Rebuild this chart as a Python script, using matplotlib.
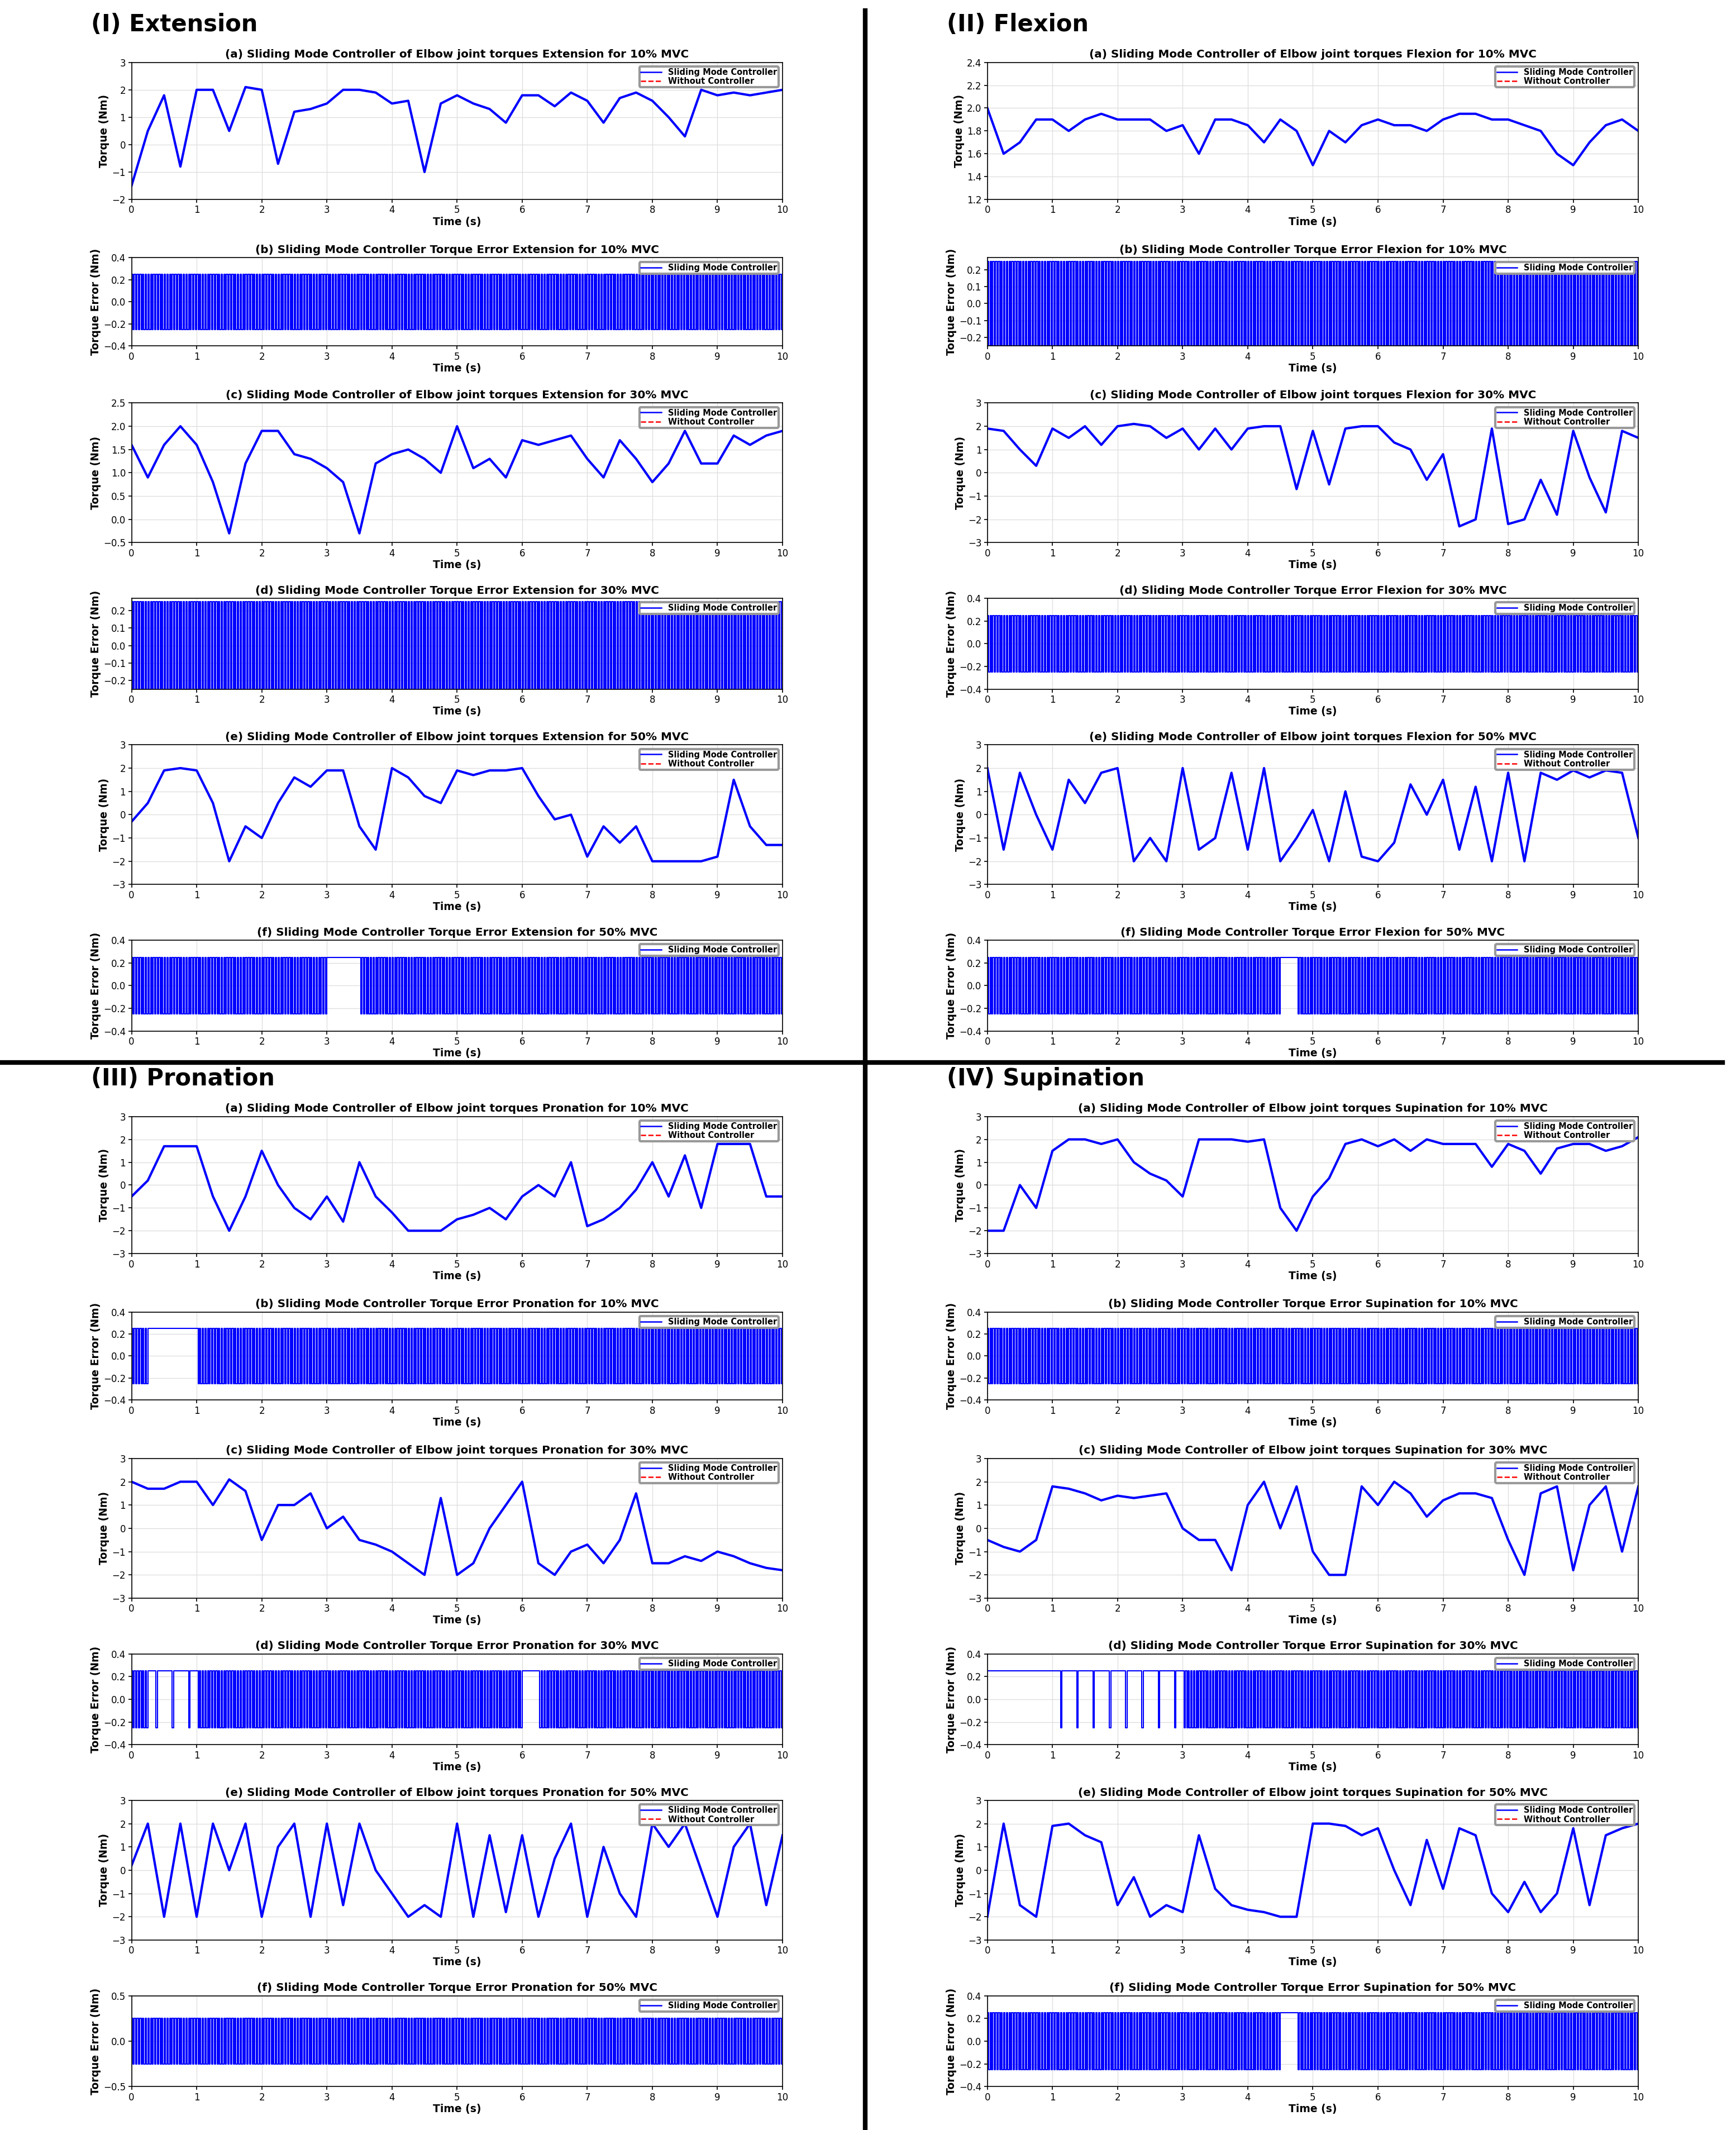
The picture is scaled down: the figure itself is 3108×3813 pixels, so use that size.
import numpy as np
import matplotlib.pyplot as plt
from matplotlib.lines import Line2D

W, H = 1280, 1570

t_coarse = np.arange(0, 10.01, 0.25)

# torque readings every 0.25 s
ext_10 = [-1.5, 0.5, 1.8, -0.8, 2.0, 2.0, 0.5, 2.1, 2.0, -0.7, 1.2, 1.3, 1.5, 2.0, 2.0, 1.9, 1.5, 1.6, -1.0, 1.5, 1.8,
          1.5, 1.3, 0.8, 1.8, 1.8, 1.4, 1.9, 1.6, 0.8, 1.7, 1.9, 1.6, 1.0, 0.3, 2.0, 1.8, 1.9, 1.8, 1.9, 2.0]
ext_30 = [1.6, 0.9, 1.6, 2.0, 1.6, 0.8, -0.3, 1.2, 1.9, 1.9, 1.4, 1.3, 1.1, 0.8, -0.3, 1.2, 1.4, 1.5, 1.3, 1.0, 2.0,
          1.1, 1.3, 0.9, 1.7, 1.6, 1.7, 1.8, 1.3, 0.9, 1.7, 1.3, 0.8, 1.2, 1.9, 1.2, 1.2, 1.8, 1.6, 1.8, 1.9]
ext_50 = [-0.3, 0.5, 1.9, 2.0, 1.9, 0.5, -2.0, -0.5, -1.0, 0.5, 1.6, 1.2, 1.9, 1.9, -0.5, -1.5, 2.0, 1.6, 0.8, 0.5, 1.9,
          1.7, 1.9, 1.9, 2.0, 0.8, -0.2, 0.0, -1.8, -0.5, -1.2, -0.5, -2.0, -2.0, -2.0, -2.0, -1.8, 1.5, -0.5, -1.3, -1.3]
flx_10 = [2.0, 1.6, 1.7, 1.9, 1.9, 1.8, 1.9, 1.95, 1.9, 1.9, 1.9, 1.8, 1.85, 1.6, 1.9, 1.9, 1.85, 1.7, 1.9, 1.8, 1.5,
          1.8, 1.7, 1.85, 1.9, 1.85, 1.85, 1.8, 1.9, 1.95, 1.95, 1.9, 1.9, 1.85, 1.8, 1.6, 1.5, 1.7, 1.85, 1.9, 1.8]
flx_30 = [1.9, 1.8, 1.0, 0.3, 1.9, 1.5, 2.0, 1.2, 2.0, 2.1, 2.0, 1.5, 1.9, 1.0, 1.9, 1.0, 1.9, 2.0, 2.0, -0.7, 1.8,
          -0.5, 1.9, 2.0, 2.0, 1.3, 1.0, -0.3, 0.8, -2.3, -2.0, 1.9, -2.2, -2.0, -0.3, -1.8, 1.8, -0.2, -1.7, 1.8, 1.5]
flx_50 = [2.0, -1.5, 1.8, 0.0, -1.5, 1.5, 0.5, 1.8, 2.0, -2.0, -1.0, -2.0, 2.0, -1.5, -1.0, 1.8, -1.5, 2.0, -2.0, -1.0, 0.2,
          -2.0, 1.0, -1.8, -2.0, -1.2, 1.3, 0.0, 1.5, -1.5, 1.2, -2.0, 1.8, -2.0, 1.8, 1.5, 1.9, 1.6, 1.9, 1.8, -1.0]
pro_10 = [-0.5, 0.2, 1.7, 1.7, 1.7, -0.5, -2.0, -0.5, 1.5, 0.0, -1.0, -1.5, -0.5, -1.6, 1.0, -0.5, -1.2, -2.0, -2.0, -2.0, -1.5,
          -1.3, -1.0, -1.5, -0.5, 0.0, -0.5, 1.0, -1.8, -1.5, -1.0, -0.2, 1.0, -0.5, 1.3, -1.0, 1.8, 1.8, 1.8, -0.5, -0.5]
pro_30 = [2.0, 1.7, 1.7, 2.0, 2.0, 1.0, 2.1, 1.6, -0.5, 1.0, 1.0, 1.5, 0.0, 0.5, -0.5, -0.7, -1.0, -1.5, -2.0, 1.3, -2.0,
          -1.5, 0.0, 1.0, 2.0, -1.5, -2.0, -1.0, -0.7, -1.5, -0.5, 1.5, -1.5, -1.5, -1.2, -1.4, -1.0, -1.2, -1.5, -1.7, -1.8]
pro_50 = [0.2, 2.0, -2.0, 2.0, -2.0, 2.0, 0.0, 2.0, -2.0, 1.0, 2.0, -2.0, 2.0, -1.5, 2.0, 0.0, -1.0, -2.0, -1.5, -2.0, 2.0,
          -2.0, 1.5, -1.8, 1.5, -2.0, 0.5, 2.0, -2.0, 1.0, -1.0, -2.0, 2.0, 1.0, 2.0, 0.0, -2.0, 1.0, 2.0, -1.5, 1.5]
sup_10 = [-2.0, -2.0, 0.0, -1.0, 1.5, 2.0, 2.0, 1.8, 2.0, 1.0, 0.5, 0.2, -0.5, 2.0, 2.0, 2.0, 1.9, 2.0, -1.0, -2.0, -0.5,
          0.3, 1.8, 2.0, 1.7, 2.0, 1.5, 2.0, 1.8, 1.8, 1.8, 0.8, 1.8, 1.5, 0.5, 1.6, 1.8, 1.8, 1.5, 1.7, 2.1]
sup_30 = [-0.5, -0.8, -1.0, -0.5, 1.8, 1.7, 1.5, 1.2, 1.4, 1.3, 1.4, 1.5, 0.0, -0.5, -0.5, -1.8, 1.0, 2.0, 0.0, 1.8, -1.0,
          -2.0, -2.0, 1.8, 1.0, 2.0, 1.5, 0.5, 1.2, 1.5, 1.5, 1.3, -0.5, -2.0, 1.5, 1.8, -1.8, 1.0, 1.8, -1.0, 1.8]
sup_50 = [-2.0, 2.0, -1.5, -2.0, 1.9, 2.0, 1.5, 1.2, -1.5, -0.3, -2.0, -1.5, -1.8, 1.5, -0.8, -1.5, -1.7, -1.8, -2.0, -2.0, 2.0,
          2.0, 1.9, 1.5, 1.8, 0.0, -1.5, 1.3, -0.8, 1.8, 1.5, -1.0, -1.8, -0.5, -1.8, -1.0, 1.8, -1.5, 1.5, 1.8, 2.0]

# error pattern per 0.25 s: x = dense switching, s = sparse dips, h = held high
err_ext_10 = "x" * 40
err_ext_30 = "x" * 40
err_ext_50 = "x" * 12 + "hh" + "x" * 26
err_flx_10 = "x" * 40
err_flx_30 = "x" * 40
err_flx_50 = "x" * 18 + "h" + "x" * 21
err_pro_10 = "x" + "hhh" + "x" * 36
err_pro_30 = "x" + "sss" + "x" * 20 + "h" + "x" * 15
err_pro_50 = "x" * 40
err_sup_10 = "x" * 40
err_sup_30 = "hhhh" + "ssssssss" + "x" * 28
err_sup_50 = "x" * 18 + "h" + "x" * 21

err_amp = [0.25, 0.25, 0.25, 0.25, 0.25, 0.25, 0.25, 0.25, 0.25, 0.25, 0.25, 0.25]

tops_top = [46, 190, 297, 441, 549, 693]
tops_bot = [823, 967, 1075, 1219, 1327, 1471]
heights = [101, 65, 103, 67, 103, 67]
lefts = [97, 728]


def expand(pattern, amp, n=12):
    vals = []
    for ch in pattern:
        for k in range(n):
            if ch == "x":
                vals.append(amp if k % 2 == 0 else -amp)
            elif ch == "s":
                vals.append(-amp if k == n // 2 else amp)
            else:
                vals.append(amp)
    vals.append(vals[-1])
    return np.linspace(0, 10, len(vals)), np.array(vals)


def axes_at(x, y, h):
    return fig.add_axes([x / W, 1 - (y + h) / H, 480 / W, h / H])


def style(ax, title, ylab, ylim, yticks):
    ax.set_xlim(0, 10)
    ax.set_xticks(range(11))
    ax.set_ylim(*ylim)
    ax.set_yticks(yticks)
    ax.tick_params(labelsize=4, length=1.5, width=0.4, pad=1)
    ax.grid(True, color="#dddddd", linewidth=0.3)
    for s in ax.spines.values():
        s.set_linewidth(0.4)
    ax.set_title(title, fontsize=4.8, fontweight="bold", pad=2)
    ax.set_xlabel("Time (s)", fontsize=4.5, fontweight="bold", labelpad=0.5)
    ax.set_ylabel(ylab, fontsize=4.5, fontweight="bold", labelpad=1)


fig = plt.figure(figsize=(3108 / 300, 3813 / 300), dpi=300)

groups = [
    ("(I) Extension", "Extension", lefts[0], tops_top, [ext_10, ext_30, ext_50], [err_ext_10, err_ext_30, err_ext_50],
     [((-2, 3), range(-2, 4)), ((-0.5, 2.5), np.arange(-0.5, 2.51, 0.5)), ((-3, 3), range(-3, 4))],
     [((-0.4, 0.4), np.arange(-0.4, 0.41, 0.2)), ((-0.25, 0.27), np.arange(-0.2, 0.21, 0.1)), ((-0.4, 0.4), np.arange(-0.4, 0.41, 0.2))]),
    ("(II) Flexion", "Flexion", lefts[1], tops_top, [flx_10, flx_30, flx_50], [err_flx_10, err_flx_30, err_flx_50],
     [((1.2, 2.4), np.arange(1.2, 2.41, 0.2)), ((-3, 3), range(-3, 4)), ((-3, 3), range(-3, 4))],
     [((-0.25, 0.27), np.arange(-0.2, 0.21, 0.1)), ((-0.4, 0.4), np.arange(-0.4, 0.41, 0.2)), ((-0.4, 0.4), np.arange(-0.4, 0.41, 0.2))]),
    ("(III) Pronation", "Pronation", lefts[0], tops_bot, [pro_10, pro_30, pro_50], [err_pro_10, err_pro_30, err_pro_50],
     [((-3, 3), range(-3, 4))] * 3,
     [((-0.4, 0.4), np.arange(-0.4, 0.41, 0.2)), ((-0.4, 0.4), np.arange(-0.4, 0.41, 0.2)), ((-0.5, 0.5), [-0.5, 0, 0.5])]),
    ("(IV) Supination", "Supination", lefts[1], tops_bot, [sup_10, sup_30, sup_50], [err_sup_10, err_sup_30, err_sup_50],
     [((-3, 3), range(-3, 4))] * 3,
     [((-0.4, 0.4), np.arange(-0.4, 0.41, 0.2))] * 3),
]

letters = "abcdef"
mvc = ["10%", "30%", "50%"]
leg_both = [Line2D([], [], color="blue", lw=0.6), Line2D([], [], color="red", lw=0.6, ls="--")]
gi = 0
for header, name, x0, tops, torques, errs, tlims, elims in groups:
    fig.text((x0 - 30) / W, 1 - (tops[0] - 28) / H, header, fontsize=10, fontweight="bold", va="center")
    for i in range(3):
        ax = axes_at(x0, tops[2 * i], heights[2 * i])
        y = np.array(torques[i])
        ax.plot(t_coarse, y, color="red", ls="--", lw=0.6)
        ax.plot(t_coarse, y, color="blue", lw=1.0)
        style(ax, f"({letters[2*i]}) Sliding Mode Controller of Elbow joint torques {name} for {mvc[i]} MVC",
              "Torque (Nm)", tlims[i][0], tlims[i][1])
        ax.legend(leg_both, ["Sliding Mode Controller", "Without Controller"], loc="upper right", fontsize=3.5,
                  handlelength=2.5, borderpad=0.2, labelspacing=0.1, framealpha=1, edgecolor="#999999",
                  prop={"size": 3.5, "weight": "bold"})

        ax = axes_at(x0, tops[2 * i + 1], heights[2 * i + 1])
        te, ye = expand(errs[i], err_amp[gi * 3 + i])
        ax.step(te, ye, where="post", color="blue", lw=0.5)
        style(ax, f"({letters[2*i+1]}) Sliding Mode Controller Torque Error {name} for {mvc[i]} MVC",
              "Torque Error (Nm)", elims[i][0], elims[i][1])
        ax.legend(leg_both[:1], ["Sliding Mode Controller"], loc="upper right", handlelength=2.5, borderpad=0.2,
                  framealpha=1, edgecolor="#999999", prop={"size": 3.5, "weight": "bold"})
    gi += 1

fig.add_artist(Line2D([638 / W, 638 / W], [0, 1 - 8 / H], color="black", lw=2))
fig.add_artist(Line2D([0, 1270 / W], [1 - 783 / H, 1 - 783 / H], color="black", lw=2))

fig.savefig("out.png", dpi=300, facecolor="white")
